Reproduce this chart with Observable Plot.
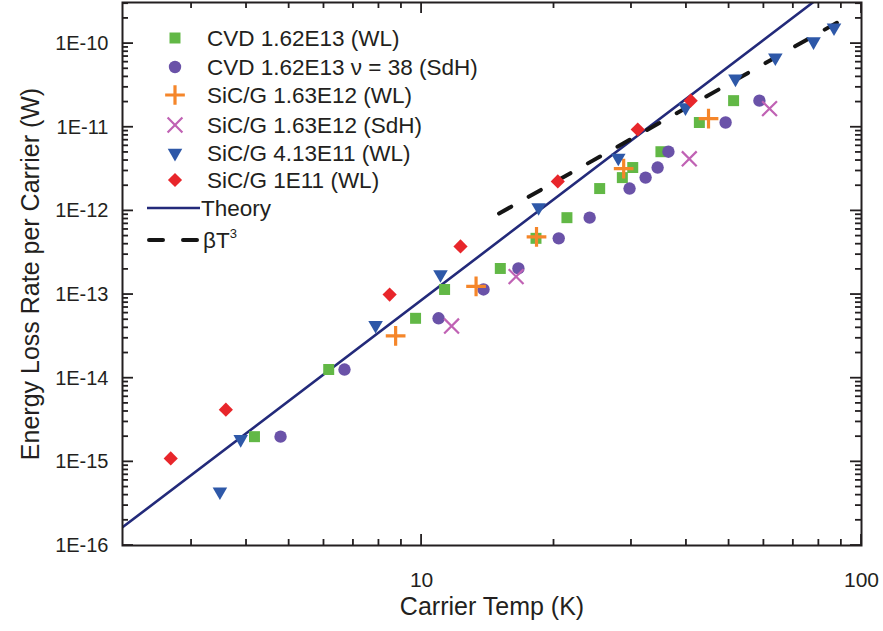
<!DOCTYPE html>
<html><head><meta charset="utf-8">
<script src="https://cdn.jsdelivr.net/npm/d3@7"></script>
<script src="https://cdn.jsdelivr.net/npm/@observablehq/plot@0.6"></script>
<style>
body{margin:0;background:#fff;}
#chart{position:relative;width:883px;height:631px;}
</style></head><body><div id="chart"></div>
<script>
// ---- data (carrier temperature in K, energy loss rate per carrier in W) ----
const cvdWL_T = [4.17, 6.15, 9.69, 11.28, 15.1, 18.2, 21.4, 25.4, 28.6, 30.2, 35.0, 42.8, 51.2];
const cvdWL_P = [2.0e-15, 1.27e-14, 5.2e-14, 1.15e-13, 2.05e-13, 4.7e-13, 8.3e-13, 1.85e-12, 2.5e-12, 3.3e-12, 5.1e-12, 1.14e-11, 2.08e-11];
const cvdSdH_T = [4.78, 6.68, 10.93, 13.83, 16.6, 20.5, 24.1, 29.7, 32.3, 34.4, 36.4, 49.1, 58.6];
const cvdSdH_P = [2.0e-15, 1.27e-14, 5.2e-14, 1.15e-13, 2.05e-13, 4.7e-13, 8.3e-13, 1.85e-12, 2.5e-12, 3.3e-12, 5.1e-12, 1.14e-11, 2.08e-11];
const sic163WL_T = [8.73, 13.3, 18.25, 28.8, 44.9];
const sic163WL_P = [3.2e-14, 1.25e-13, 4.9e-13, 3.2e-12, 1.27e-11];
const sic163SdH_T = [11.7, 16.4, 40.6, 61.8];
const sic163SdH_P = [4.2e-14, 1.64e-13, 4.2e-12, 1.67e-11];
const sic413WL_T = [3.48, 3.88, 7.86, 11.04, 18.45, 28.0, 39.8, 51.7, 63.7, 77.8, 86.6];
const sic413WL_P = [4.4e-16, 1.86e-15, 4.3e-14, 1.74e-13, 1.1e-12, 4.3e-12, 1.72e-11, 3.8e-11, 6.8e-11, 1.06e-10, 1.55e-10];
const sic1e11WL_T = [2.69, 3.59, 8.46, 12.26, 20.4, 31.0, 40.9];
const sic1e11WL_P = [1.1e-15, 4.2e-15, 1.0e-13, 3.76e-13, 2.25e-12, 9.4e-12, 2.08e-11];
const theory_T = [2.09, 77.5];
const theory_P = [1.65e-16, 3.1e-10];
const betaT3_T = [15.0, 94.5];
const betaT3_P = [9.3e-13, 2.2e-10];

const seriesNames = ["CVD 1.62E13 (WL)", "CVD 1.62E13 \u03bd = 38 (SdH)", "SiC/G 1.63E12 (WL)", "SiC/G 1.63E12 (SdH)", "SiC/G 4.13E11 (WL)", "SiC/G 1E11 (WL)"];
const xMajorTicks = [10, 100];
const xMinorTicks = [3, 4, 5, 6, 7, 8, 9, 20, 30, 40, 50, 60, 70, 80, 90];
const yMajorTicks = [1e-16, 1e-15, 1e-14, 1e-13, 1e-12, 1e-11, 1e-10];
const yMinorTicks = [];
for (let k = -16; k <= -11; k++) for (let m = 2; m <= 9; m++) yMinorTicks.push(m * Math.pow(10, k));
yMinorTicks.push(2e-10, 3e-10);

// ---- styles ----
const ink = "#231f20";
const font = "'Liberation Sans', Arial, Helvetica, sans-serif";
const styles = [
  {symbol: "square", color: "#62b846", r: 6.2, fill: true, rotate: 0},
  {symbol: "circle", color: "#6a52a8", r: 6.2, fill: true, rotate: 0},
  {symbol: "plus", color: "#f5862a", r: 6.4, fill: false, sw: 3.2, rotate: 0},
  {symbol: "times", color: "#c062b4", r: 6.8, fill: false, sw: 2.2, rotate: 0},
  {symbol: "triangle", color: "#2e58a8", r: 5.4, fill: true, rotate: 180},
  {symbol: "diamond2", color: "#e8262b", r: 6.4, fill: true, rotate: 0}
];
const Ts = [cvdWL_T, cvdSdH_T, sic163WL_T, sic163SdH_T, sic413WL_T, sic1e11WL_T];
const Ps = [cvdWL_P, cvdSdH_P, sic163WL_P, sic163SdH_P, sic413WL_P, sic1e11WL_P];
const rows = (T, P) => T.map((t, i) => ({T: t, P: P[i]}));

const dotMarks = Ts.map((T, i) => {
  const s = styles[i];
  return Plot.dot(rows(T, Ps[i]), {
    x: "T", y: "P", symbol: s.symbol, r: s.r, rotate: s.rotate,
    fill: s.fill ? s.color : "none",
    stroke: s.fill ? "none" : s.color,
    strokeWidth: s.sw || 1
  });
});

const expLabel = d => "1E" + Math.round(Math.log10(d));

const chart = Plot.plot({
  width: 883, height: 631,
  marginLeft: 122, marginRight: 22, marginTop: 2, marginBottom: 86,
  style: {fontFamily: font, color: ink, background: "#fff"},
  x: {type: "log", domain: [2.09, 100]},
  y: {type: "log", domain: [1e-16, 3.1e-10]},
  marks: [
    Plot.axisX({anchor: "bottom", ticks: xMajorTicks, tickSize: 0, tickPadding: 27, tickFormat: d => String(d), label: null, fontSize: 21, fill: ink}),
    Plot.axisY({anchor: "left", ticks: yMajorTicks, tickSize: 0, tickPadding: 14, tickFormat: expLabel, label: null, fontSize: 20, fill: ink}),
    Plot.line(rows(theory_T, theory_P), {x: "T", y: "P", stroke: "#232a7a", strokeWidth: 2.6, clip: true}),
    Plot.line(rows(betaT3_T, betaT3_P), {x: "T", y: "P", stroke: "#151515", strokeWidth: 4, strokeDasharray: "14,20", strokeLinecap: "round", clip: true}),
    ...dotMarks,
    Plot.frame({stroke: ink, strokeWidth: 2}),
    Plot.text(["Carrier Temp (K)"], {frameAnchor: "bottom", dy: 69, fontSize: 25, fill: ink, textAnchor: "middle"}),
    Plot.text(["Energy Loss Rate per Carrier (W)"], {frameAnchor: "left", dx: -92, rotate: -90, fontSize: 25, fill: ink, textAnchor: "middle"})
  ]
});
document.getElementById("chart").appendChild(chart);

// ---- inward ticks on all four sides, positioned with Plot's own scales ----
const sx = chart.scale("x"), sy = chart.scale("y");
const [x0, x1] = sx.range, [y0, y1] = sy.range; // y0 bottom, y1 top
const tg = d3.select(chart).append("g").attr("stroke", ink).attr("stroke-width", 1.8);
const addX = (ticks, len) => ticks.forEach(v => {
  const px = sx.apply(v);
  tg.append("line").attr("x1", px).attr("x2", px).attr("y1", y0).attr("y2", y0 - len);
  tg.append("line").attr("x1", px).attr("x2", px).attr("y1", y1).attr("y2", y1 + len);
});
const addY = (ticks, len) => ticks.forEach(v => {
  const py = sy.apply(v);
  tg.append("line").attr("y1", py).attr("y2", py).attr("x1", x0).attr("x2", x0 + len);
  tg.append("line").attr("y1", py).attr("y2", py).attr("x1", x1).attr("x2", x1 - len);
});
addX(xMajorTicks, 11); addX(xMinorTicks, 6);
addY(yMajorTicks, 11); addY(yMinorTicks, 6);

// ---- legend (inside plot, top-left) ----
const lg = d3.select(chart).append("g").attr("font-family", font).attr("font-size", 22.5)
  .attr("fill", ink).attr("text-anchor", "start");
const symMap = {square: d3.symbolSquare, circle: d3.symbolCircle, plus: d3.symbolPlus, times: d3.symbolTimes, triangle: d3.symbolTriangle, diamond2: d3.symbolDiamond2};
const rowY = [38, 67, 95, 125, 153, 180, 208, 240];
const symX = 175, textX = 207;
seriesNames.forEach((name, i) => {
  const s = styles[i];
  lg.append("path")
    .attr("d", d3.symbol(symMap[s.symbol], Math.PI * s.r * s.r)())
    .attr("transform", `translate(${symX},${rowY[i]}) rotate(${s.rotate})`)
    .attr("fill", s.fill ? s.color : "none")
    .attr("stroke", s.fill ? "none" : s.color)
    .attr("stroke-width", s.sw || 1);
  lg.append("text").attr("x", textX).attr("y", rowY[i]).attr("dy", "0.35em").text(name);
});
lg.append("line").attr("x1", 147).attr("x2", 200).attr("y1", rowY[6]).attr("y2", rowY[6])
  .attr("stroke", "#232a7a").attr("stroke-width", 2.6);
lg.append("text").attr("x", 201).attr("y", rowY[6]).attr("dy", "0.35em").text("Theory");
lg.append("line").attr("x1", 149).attr("x2", 199).attr("y1", rowY[7]).attr("y2", rowY[7])
  .attr("stroke", "#151515").attr("stroke-width", 4).attr("stroke-linecap", "round").attr("stroke-dasharray", "14,20");
const bt = lg.append("text").attr("x", 203).attr("y", rowY[7]).attr("dy", "0.35em");
bt.append("tspan").text("\u03b2T");
bt.append("tspan").attr("font-size", 13).attr("dy", "-0.75em").text("3");
</script>
</body></html>
